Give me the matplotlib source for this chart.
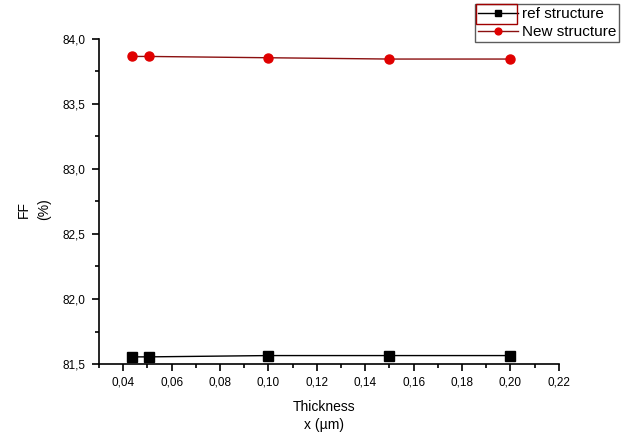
import matplotlib
matplotlib.use("Agg")
import matplotlib.pyplot as plt
from matplotlib.ticker import MultipleLocator, FuncFormatter
from matplotlib.patches import Rectangle

# thickness values (um) and fill factor (%)
thickness = [0.0436, 0.0506, 0.10, 0.15, 0.20]
ff_ref = [81.555, 81.555, 81.565, 81.565, 81.565]
ff_new = [83.865, 83.865, 83.855, 83.845, 83.845]

plt.rcParams['font.family'] = ['Liberation Sans', 'DejaVu Sans']

#Sets up the figure with the axes placed like the original
figure = plt.figure(figsize=(6.35, 4.37), dpi=100)
axes = figure.add_axes([0.156, 0.167, 0.724, 0.744])

axes.plot(thickness, ff_ref, "-", color="black", linewidth=1.0,
          marker="s", markersize=6.5, markerfacecolor="black", label="ref structure")
axes.plot(thickness, ff_new, "-", color="#8b1010", linewidth=1.0,
          marker="o", markersize=6.5, markerfacecolor="#e00000", markeredgecolor="#e00000",
          label="New structure")

axes.set_xlim(0.03, 0.22)
axes.set_ylim(81.5, 84.0)

#Comma as decimal separator, as in the original
axes.xaxis.set_major_locator(MultipleLocator(0.02))
axes.xaxis.set_minor_locator(MultipleLocator(0.01))
axes.yaxis.set_major_locator(MultipleLocator(0.5))
axes.yaxis.set_minor_locator(MultipleLocator(0.25))
axes.xaxis.set_major_formatter(FuncFormatter(lambda v, p: ("%.2f" % v).replace(".", ",") if v > 0.035 else ""))
axes.yaxis.set_major_formatter(FuncFormatter(lambda v, p: ("%.1f" % v).replace(".", ",")))

for side in ["top", "right"]:
    axes.spines[side].set_visible(False)
for side in ["left", "bottom"]:
    axes.spines[side].set_linewidth(1.2)

axes.tick_params(which="major", direction="out", length=5, width=1.2, labelsize=8.5, pad=4)
axes.tick_params(which="minor", direction="out", length=3, width=1.2)
axes.tick_params(axis="y", pad=5)

axes.set_xlabel("Thickness\nx (µm)", fontsize=10, linespacing=1.4)
axes.set_ylabel("FF\n(%)", fontsize=10, linespacing=1.5)
axes.xaxis.set_label_coords(0.49, -0.11)
axes.yaxis.set_label_coords(-0.105, 0.475)

#Legend sits above the axes in the top right corner
legend = figure.legend(loc="upper left", bbox_to_anchor=(475 / 635, 1 - 4 / 437),
                       fontsize=11, frameon=True, fancybox=False, handlelength=2.6,
                       borderpad=0.2, labelspacing=0.25, handletextpad=0.25,
                       borderaxespad=0, markerscale=0.75)
legend.get_frame().set_edgecolor("#333333")
legend.get_frame().set_linewidth(1.0)

#Red selection box around first legend entry
figure.add_artist(Rectangle((476 / 635, 1 - 24 / 437), 41 / 635, 20 / 437,
                            transform=figure.transFigure, fill=False,
                            edgecolor="#a00000", linewidth=1.0, zorder=10))

figure.savefig("out.png", dpi=100)
